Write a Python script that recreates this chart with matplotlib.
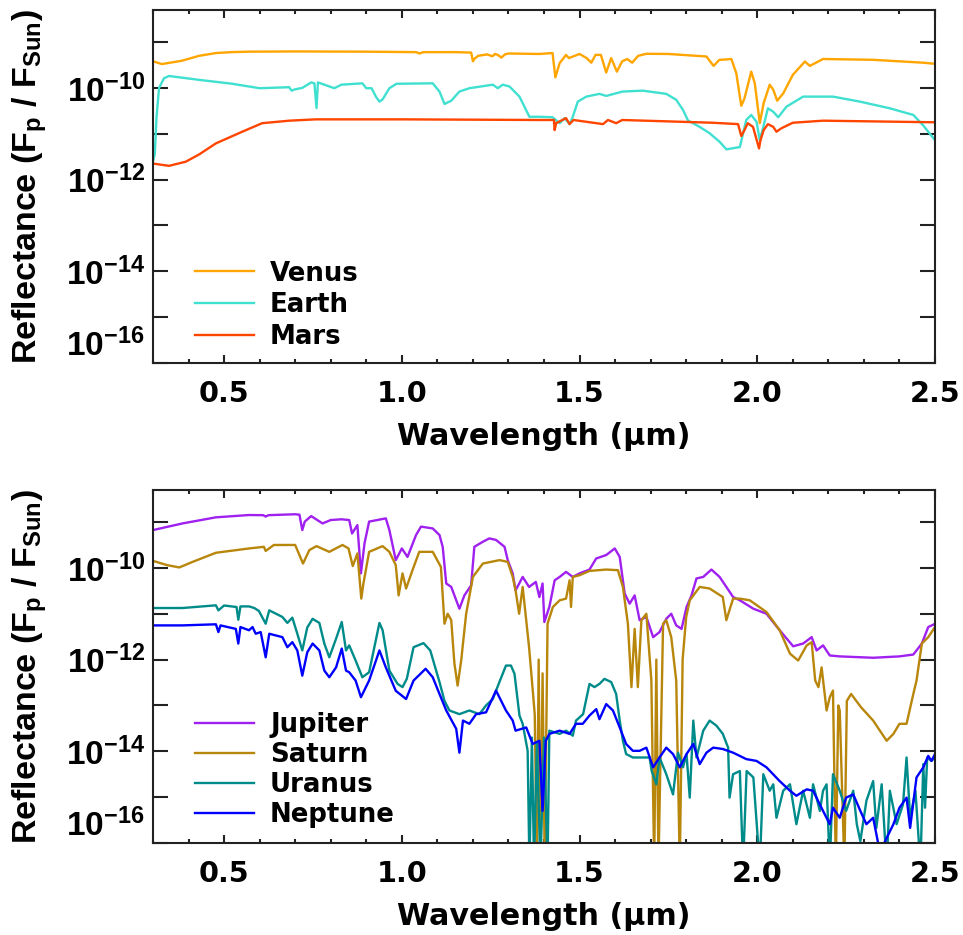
import numpy as np
import matplotlib
matplotlib.use('Agg')
import matplotlib.pyplot as plt
from matplotlib.ticker import MultipleLocator, FixedLocator, NullLocator

plt.rcParams['font.family'] = ['Liberation Sans', 'DejaVu Sans']
plt.rcParams['font.weight'] = 'bold'
plt.rcParams['mathtext.fontset'] = 'custom'
plt.rcParams['mathtext.rm'] = 'Liberation Sans:bold'
plt.rcParams['mathtext.bf'] = 'Liberation Sans:bold'
plt.rcParams['mathtext.it'] = 'Liberation Sans:bold'
plt.rcParams['mathtext.sf'] = 'Liberation Sans:bold'
plt.rcParams['mathtext.default'] = 'rm'

# ---------------- data (wavelength in micron, log10 reflectance) ----------------
venus_wl = [0.300, 0.325, 0.380, 0.430, 0.477, 0.520, 0.570, 0.700, 0.900, 1.040, 1.050, 1.060,
            1.150, 1.195, 1.200, 1.205, 1.215, 1.240, 1.255, 1.262, 1.270, 1.280, 1.290, 1.300,
            1.387, 1.424, 1.432, 1.444, 1.462, 1.470, 1.480, 1.500, 1.520, 1.533, 1.545, 1.560,
            1.575, 1.589, 1.605, 1.620, 1.634, 1.648, 1.665, 1.688, 1.750, 1.857, 1.877, 1.893,
            1.927, 1.941, 1.955, 1.964, 1.983, 1.993, 2.007, 2.018, 2.035, 2.045, 2.056, 2.073,
            2.100, 2.134, 2.148, 2.185, 2.325, 2.466, 2.500]
venus_log = [-9.42, -9.48, -9.41, -9.30, -9.24, -9.22, -9.21, -9.205, -9.21, -9.22, -9.25, -9.22,
             -9.22, -9.23, -9.42, -9.36, -9.30, -9.27, -9.31, -9.26, -9.28, -9.34, -9.27, -9.25,
             -9.26, -9.24, -9.77, -9.46, -9.28, -9.35, -9.32, -9.26, -9.35, -9.45, -9.28, -9.28,
             -9.665, -9.35, -9.645, -9.42, -9.37, -9.45, -9.30, -9.256, -9.26, -9.315, -9.52, -9.39,
             -9.37, -9.68, -10.39, -10.23, -9.645, -9.90, -10.77, -10.33, -9.93, -10.04, -10.28, -10.12,
             -9.715, -9.425, -9.52, -9.37, -9.387, -9.45, -9.475]

earth_wl = [0.300, 0.305, 0.310, 0.317, 0.331, 0.345, 0.430, 0.523, 0.600, 0.683, 0.690, 0.700,
            0.720, 0.745, 0.754, 0.760, 0.764, 0.810, 0.830, 0.889, 0.900, 0.915, 0.927, 0.937,
            0.946, 0.965, 0.985, 1.087, 1.106, 1.120, 1.139, 1.162, 1.190, 1.256, 1.270, 1.284,
            1.303, 1.331, 1.359, 1.387, 1.424, 1.444, 1.458, 1.472, 1.481, 1.495, 1.519, 1.556,
            1.575, 1.621, 1.678, 1.744, 1.772, 1.791, 1.805, 1.838, 1.866, 1.894, 1.913, 1.951,
            1.969, 1.983, 1.998, 2.007, 2.017, 2.030, 2.045, 2.059, 2.082, 2.129, 2.213, 2.289,
            2.373, 2.439, 2.466, 2.500]
earth_log = [-11.60, -11.45, -10.63, -10.00, -9.79, -9.74, -9.825, -9.91, -10.007, -9.985, -10.06, -10.03,
             -10.00, -9.88, -9.90, -10.44, -9.88, -10.007, -9.93, -9.90, -10.007, -10.007, -10.19, -10.30,
             -10.25, -10.007, -9.91, -9.90, -10.08, -10.35, -10.28, -10.08, -10.007, -9.93, -10.007, -9.93,
             -9.97, -10.19, -10.63, -10.63, -10.64, -10.77, -10.66, -10.79, -10.63, -10.30, -10.19, -10.13,
             -10.175, -10.08, -10.06, -10.13, -10.26, -10.48, -10.71, -10.85, -10.99, -11.175, -11.34, -11.29,
             -10.70, -10.59, -10.74, -11.14, -10.85, -10.445, -10.52, -10.64, -10.41, -10.19, -10.19, -10.30,
             -10.445, -10.59, -10.81, -11.14]

mars_wl = [0.300, 0.345, 0.392, 0.430, 0.477, 0.551, 0.607, 0.683, 0.758, 1.000, 1.387, 1.428,
           1.430, 1.434, 1.462, 1.472, 1.483, 1.566, 1.580, 1.603, 1.620, 1.875, 1.946, 1.955,
           1.964, 1.973, 1.988, 2.005, 2.009, 2.018, 2.030, 2.045, 2.054, 2.068, 2.100, 2.185, 2.500]
mars_log = [-11.65, -11.70, -11.61, -11.45, -11.21, -10.956, -10.77, -10.715, -10.686, -10.686, -10.70, -10.70,
            -10.92, -10.77, -10.66, -10.79, -10.70, -10.79, -10.70, -10.77, -10.70, -10.76, -10.79, -11.05,
            -10.92, -10.77, -10.85, -11.32, -11.14, -10.92, -10.79, -10.85, -10.956, -10.88, -10.76, -10.715, -10.75]

jupiter_wl = [0.300, 0.383, 0.477, 0.570, 0.610, 0.617, 0.625, 0.700, 0.712, 0.720, 0.727, 0.745,
              0.777, 0.800, 0.830, 0.852, 0.860, 0.875, 0.885, 0.895, 0.908, 0.955, 0.965, 0.983,
              1.000, 1.016, 1.040, 1.054, 1.087, 1.106, 1.115, 1.125, 1.139, 1.148, 1.162, 1.176,
              1.195, 1.204, 1.228, 1.246, 1.265, 1.289, 1.298, 1.312, 1.320, 1.340, 1.358, 1.377,
              1.387, 1.396, 1.401, 1.415, 1.430, 1.444, 1.462, 1.481, 1.500, 1.528, 1.547, 1.575,
              1.599, 1.613, 1.627, 1.641, 1.655, 1.669, 1.688, 1.707, 1.725, 1.744, 1.758, 1.772,
              1.787, 1.801, 1.815, 1.829, 1.848, 1.871, 1.894, 1.913, 1.932, 1.951, 1.989, 2.026,
              2.063, 2.101, 2.129, 2.153, 2.167, 2.185, 2.204, 2.232, 2.326, 2.400, 2.439, 2.463,
              2.481, 2.500]
jupiter_log = [-9.175, -9.03, -8.897, -8.847, -8.85, -8.88, -8.85, -8.83, -8.84, -9.175, -8.99, -8.87,
               -9.03, -8.956, -8.94, -8.956, -9.25, -9.066, -10.12, -9.466, -8.99, -8.92, -9.175, -9.83,
               -9.576, -9.76, -9.284, -9.10, -9.14, -9.284, -9.54, -10.34, -10.415, -10.60, -10.89, -10.60,
               -10.38, -9.54, -9.43, -9.357, -9.39, -9.54, -9.83, -10.12, -10.49, -10.197, -10.415, -10.306,
               -10.635, -10.34, -11.18, -10.853, -10.27, -10.197, -10.087, -10.197, -10.12, -10.036, -9.794, -9.72,
               -9.576, -9.76, -10.56, -10.78, -10.60, -11.14, -11.07, -11.51, -11.40, -11.11, -11.00, -11.254,
               -11.33, -10.853, -10.60, -10.23, -10.197, -10.036, -10.197, -10.415, -10.635, -10.707, -10.89, -11.00,
               -11.36, -11.71, -11.65, -11.51, -11.80, -11.69, -11.91, -11.93, -11.96, -11.93, -11.89, -11.65,
               -11.29, -11.22]

saturn_wl = [0.300, 0.340, 0.374, 0.411, 0.477, 0.570, 0.612, 0.617, 0.640, 0.700, 0.722, 0.740,
             0.760, 0.796, 0.833, 0.850, 0.862, 0.875, 0.886, 0.892, 0.908, 0.946, 0.965, 0.983,
             0.991, 1.002, 1.012, 1.030, 1.049, 1.087, 1.110, 1.120, 1.129, 1.139, 1.148, 1.157,
             1.167, 1.181, 1.200, 1.228, 1.275, 1.298, 1.312, 1.320, 1.330, 1.340, 1.358, 1.366,
             1.374, 1.380, 1.385, 1.390, 1.396, 1.402, 1.410, 1.425, 1.444, 1.462, 1.472, 1.476,
             1.481, 1.500, 1.528, 1.575, 1.608, 1.622, 1.636, 1.646, 1.655, 1.664, 1.674, 1.688,
             1.702, 1.710, 1.716, 1.722, 1.735, 1.744, 1.758, 1.772, 1.782, 1.790, 1.800, 1.810,
             1.838, 1.866, 1.903, 1.913, 1.932, 1.951, 1.979, 2.026, 2.063, 2.092, 2.115, 2.139,
             2.153, 2.163, 2.172, 2.181, 2.195, 2.204, 2.213, 2.221, 2.228, 2.232, 2.245, 2.252,
             2.264, 2.292, 2.326, 2.364, 2.383, 2.400, 2.420, 2.439, 2.448, 2.463, 2.481, 2.500]
saturn_log = [-9.847, -9.94, -9.99, -9.87, -9.67, -9.576, -9.54, -9.63, -9.50, -9.50, -9.905, -9.61,
              -9.525, -9.65, -9.50, -9.576, -9.96, -9.685, -10.67, -10.34, -9.65, -9.525, -9.65, -9.94,
              -10.60, -10.12, -10.45, -10.05, -9.65, -9.65, -9.98, -11.217, -11.00, -11.14, -12.09, -12.567,
              -12.02, -11.00, -10.197, -9.905, -9.83, -9.87, -10.197, -10.49, -11.00, -10.415, -11.73, -12.457,
              -13.20, -16.50, -12.00, -16.50, -12.30, -16.50, -11.217, -10.853, -10.707, -10.67, -10.27, -10.853,
              -10.197, -10.16, -10.066, -10.036, -10.05, -10.415, -11.217, -12.60, -11.33, -12.60, -11.14, -11.00,
              -12.457, -16.50, -12.00, -16.50, -11.217, -11.14, -11.51, -12.457, -16.50, -12.00, -11.07, -10.707,
              -10.415, -10.45, -10.635, -11.14, -10.67, -10.67, -10.707, -10.963, -11.36, -11.87, -12.02, -11.69,
              -11.62, -12.457, -12.60, -12.17, -13.11, -12.82, -12.676, -16.50, -13.00, -13.11, -16.50, -12.90,
              -12.75, -13.04, -13.33, -13.77, -13.62, -13.40, -13.40, -12.75, -12.457, -11.65, -11.51, -11.29]

uranus_wl = [0.300, 0.383, 0.477, 0.484, 0.500, 0.535, 0.540, 0.546, 0.570, 0.585, 0.598, 0.617,
             0.627, 0.664, 0.678, 0.692, 0.706, 0.720, 0.734, 0.749, 0.768, 0.782, 0.796, 0.815,
             0.831, 0.843, 0.852, 0.870, 0.889, 0.908, 0.937, 0.946, 0.965, 0.988, 1.002, 1.014,
             1.033, 1.061, 1.080, 1.106, 1.120, 1.134, 1.162, 1.190, 1.218, 1.237, 1.256, 1.274,
             1.293, 1.307, 1.317, 1.331, 1.340, 1.354, 1.359, 1.366, 1.372, 1.380, 1.390, 1.400,
             1.410, 1.415, 1.444, 1.462, 1.481, 1.490, 1.510, 1.528, 1.542, 1.556, 1.570, 1.589,
             1.603, 1.613, 1.622, 1.631, 1.650, 1.669, 1.697, 1.703, 1.716, 1.725, 1.744, 1.763,
             1.777, 1.791, 1.801, 1.810, 1.820, 1.829, 1.848, 1.866, 1.885, 1.903, 1.918, 1.922,
             1.932, 1.951, 1.960, 1.970, 1.989, 2.007, 2.017, 2.035, 2.045, 2.054, 2.073, 2.092,
             2.110, 2.129, 2.148, 2.157, 2.176, 2.185, 2.195, 2.204, 2.213, 2.232, 2.250, 2.270,
             2.280, 2.290, 2.307, 2.326, 2.335, 2.350, 2.364, 2.373, 2.392, 2.410, 2.420, 2.430,
             2.445, 2.459, 2.467, 2.472, 2.478, 2.490, 2.500]
uranus_log = [-10.875, -10.875, -10.816, -10.926, -10.82, -10.853, -11.13, -10.84, -10.84, -10.875, -10.94, -11.217,
              -10.926, -11.07, -11.20, -11.085, -11.436, -11.80, -11.30, -11.11, -11.20, -11.65, -11.95, -11.545,
              -11.18, -11.80, -11.69, -12.02, -12.385, -12.276, -11.20, -11.36, -12.24, -12.53, -12.60, -12.42,
              -11.73, -11.64, -11.80, -12.49, -12.90, -13.11, -13.19, -13.11, -13.19, -13.00, -12.86, -12.50,
              -12.13, -12.13, -12.31, -13.22, -13.40, -13.99, -16.50, -13.70, -16.50, -13.80, -16.50, -13.70,
              -16.50, -13.55, -13.62, -13.55, -13.66, -13.33, -13.19, -12.53, -12.60, -12.53, -12.42, -12.49,
              -12.75, -13.33, -13.77, -14.06, -14.135, -14.135, -14.135, -14.43, -14.72, -14.135, -14.50, -14.94,
              -14.03, -14.35, -14.06, -15.01, -13.33, -14.135, -13.55, -13.33, -13.44, -13.62, -13.92, -15.01,
              -14.50, -14.43, -16.50, -14.43, -14.57, -16.50, -14.50, -14.86, -14.72, -15.45, -14.86, -14.72,
              -15.59, -14.86, -15.45, -14.72, -15.30, -14.86, -14.72, -16.50, -14.50, -14.86, -15.30, -14.86,
              -15.59, -15.96, -15.08, -14.65, -15.67, -14.72, -16.50, -14.86, -15.59, -15.155, -14.135, -15.45,
              -14.86, -16.50, -14.28, -15.23, -14.135, -14.21, -14.135]

neptune_wl = [0.300, 0.383, 0.477, 0.484, 0.490, 0.510, 0.533, 0.540, 0.546, 0.570, 0.580, 0.589,
              0.603, 0.617, 0.627, 0.664, 0.678, 0.692, 0.706, 0.720, 0.734, 0.749, 0.768, 0.782,
              0.796, 0.815, 0.831, 0.843, 0.852, 0.870, 0.885, 0.908, 0.937, 0.955, 0.983, 1.012,
              1.033, 1.067, 1.087, 1.106, 1.125, 1.153, 1.162, 1.172, 1.190, 1.209, 1.237, 1.265,
              1.293, 1.312, 1.320, 1.350, 1.368, 1.387, 1.396, 1.405, 1.415, 1.444, 1.472, 1.490,
              1.509, 1.528, 1.547, 1.556, 1.575, 1.594, 1.613, 1.631, 1.650, 1.669, 1.688, 1.707,
              1.725, 1.744, 1.763, 1.782, 1.801, 1.820, 1.838, 1.857, 1.876, 1.903, 1.932, 1.969,
              1.998, 2.026, 2.063, 2.092, 2.110, 2.139, 2.157, 2.185, 2.204, 2.213, 2.232, 2.250,
              2.270, 2.290, 2.307, 2.326, 2.345, 2.364, 2.383, 2.400, 2.420, 2.430, 2.448, 2.467,
              2.481, 2.490, 2.500]
neptune_log = [-11.254, -11.254, -11.23, -11.40, -11.254, -11.29, -11.33, -11.65, -11.29, -11.36, -11.29, -11.436,
               -11.40, -11.95, -11.436, -11.51, -11.73, -11.62, -11.80, -12.35, -11.84, -11.65, -11.80, -12.24,
               -12.385, -12.17, -11.76, -12.24, -12.276, -12.457, -12.82, -12.457, -11.80, -12.17, -12.68, -12.86,
               -12.457, -12.20, -12.385, -12.75, -13.11, -13.51, -14.03, -13.33, -13.40, -13.19, -13.15, -12.676,
               -13.11, -13.33, -13.55, -13.48, -13.84, -13.77, -15.30, -13.77, -13.62, -13.55, -13.62, -13.40,
               -13.40, -13.22, -13.08, -13.30, -12.97, -13.11, -13.48, -13.84, -13.99, -13.99, -13.92, -14.35,
               -14.135, -13.92, -14.06, -14.35, -14.06, -13.84, -14.28, -14.03, -13.92, -13.95, -14.03, -14.17,
               -14.21, -14.35, -14.65, -14.86, -14.97, -14.83, -14.86, -15.30, -15.59, -15.23, -15.45, -15.01,
               -14.94, -15.30, -15.59, -15.45, -16.20, -15.89, -15.59, -15.23, -15.01, -15.67, -14.57, -14.35,
               -14.10, -14.21, -14.06]

inner_names = ['Venus', 'Earth', 'Mars']
inner_colors = ['#FFA500', '#40E0D0', '#FF4500']
outer_names = ['Jupiter', 'Saturn', 'Uranus', 'Neptune']
outer_colors = ['#A020F0', '#B8860B', '#008B8B', '#0000FF']

xtick_pos = [0.5, 1.0, 1.5, 2.0, 2.5]
xtick_labels = ['0.5', '1.0', '1.5', '2.0', '2.5']
ytick_exp = [-16, -15, -14, -13, -12, -11, -10, -9]
ytick_labels = ['$10^{-16}$', '', '$10^{-14}$', '', '$10^{-12}$', '', '$10^{-10}$', '']

WIDE = ['DejaVu Sans']

W, H = 963, 935
fig = plt.figure(figsize=(W / 100, H / 100), dpi=100)
ax1 = fig.add_axes([153 / W, 1 - 363 / H, 782 / W, 353 / H])
ax2 = fig.add_axes([153 / W, 1 - 843 / H, 782 / W, 353 / H])

for wl, lg, name, col in zip([venus_wl, earth_wl, mars_wl], [venus_log, earth_log, mars_log],
                             inner_names, inner_colors):
    ax1.plot(wl, 10.0 ** np.array(lg), color=col, lw=1.7, label=name)

for wl, lg, name, col in zip([jupiter_wl, saturn_wl, uranus_wl, neptune_wl],
                             [jupiter_log, saturn_log, uranus_log, neptune_log],
                             outer_names, outer_colors):
    ax2.plot(wl, 10.0 ** np.array(lg), color=col, lw=1.7, label=name)


def style(ax, leg_y, spacing):
    ax.set_yscale('log')
    ax.set_xlim(0.3, 2.5)
    ax.set_ylim(1e-16, 5e-9)
    ax.xaxis.set_major_locator(FixedLocator(xtick_pos))
    ax.xaxis.set_minor_locator(MultipleLocator(0.1))
    xl = ax.set_xticklabels(xtick_labels)
    for t in xl:
        t.set_family(WIDE)
        t.set_fontsize(20.7)
    ax.yaxis.set_major_locator(FixedLocator([10.0 ** e for e in ytick_exp]))
    ax.yaxis.set_minor_locator(NullLocator())
    labs = ax.set_yticklabels(ytick_labels)
    labs[0].set_va('bottom')
    ax.tick_params(which='both', direction='in', top=True, right=True, width=1.5, color='#222222')
    ax.tick_params(axis='y', which='major', length=11, labelsize=24, pad=6)
    ax.tick_params(axis='x', which='major', length=5.5, pad=12)
    ax.tick_params(axis='x', which='minor', length=3.2)
    for s in ax.spines.values():
        s.set_linewidth(1.5)
        s.set_color('#222222')
    ax.set_xlabel('Wavelength (µm)', fontsize=21.7, fontweight='bold', family=WIDE)
    ax.xaxis.label.set_va('center')
    ax.xaxis.set_label_coords(0.5, -0.207)
    ax.set_ylabel('Reflectance (F$_{p}$ / F$_{Sun}$)', fontsize=24.5, fontweight='bold')
    ax.yaxis.label.set_va('center')
    ax.yaxis.set_label_coords(-0.157, 0.5)
    leg = ax.legend(loc='lower left', bbox_to_anchor=(0.0537, leg_y), frameon=False,
                    prop={'family': WIDE, 'weight': 'bold', 'size': 18.7},
                    handlelength=2.27, handletextpad=0.62, labelspacing=spacing, borderpad=0,
                    borderaxespad=0)
    for line in leg.get_lines():
        line.set_linewidth(1.7)


style(ax1, 0.037, 0.22)
style(ax2, 0.042, 0.155)

fig.savefig('out.png', dpi=100)
